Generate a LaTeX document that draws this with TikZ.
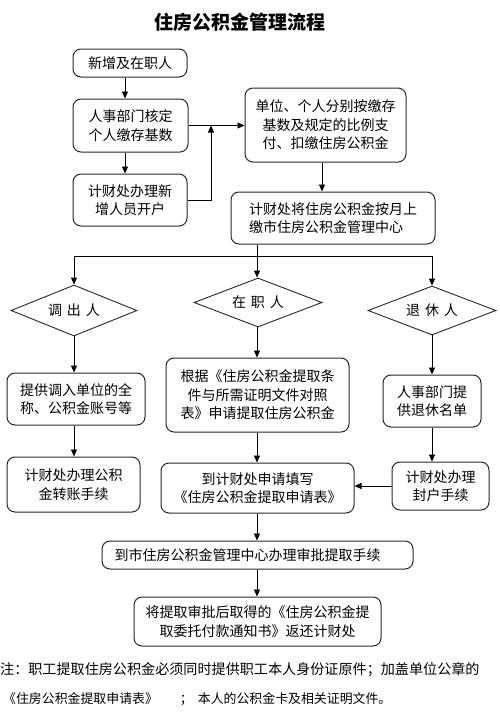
\documentclass[tikz,border=0pt]{standalone}
\usepackage{fontspec}
\setmainfont{Noto Sans CJK SC}
\newfontfamily\cjk{Noto Sans CJK SC}
\usetikzlibrary{shapes.geometric,arrows.meta}
\begin{document}
\begin{tikzpicture}[x=1pt,y=-1pt,
  box/.style={draw=black!85, line width=1pt, rounded corners=8pt, inner sep=0pt,
    align=center, font=\cjk\fontsize{14}{18.5}\selectfont},
  dia/.style={draw=black!85, line width=0.9pt, diamond, aspect=2.5, inner sep=0pt,
    font=\cjk\fontsize{14}{18}\selectfont},
  arr/.style={line width=0.9pt, -{Triangle[length=7pt,width=6pt]}},
  ln/.style={line width=0.9pt}]
\useasboundingbox (0,0) rectangle (500,718);
\node[font=\cjk\bfseries\fontsize{19}{22}\selectfont] (title) at (240,22) {住房公积金管理流程};

\node[box, minimum width=114pt, minimum height=28pt] (b1) at (130,63) {新增及在职人};
\node[box, minimum width=115pt, minimum height=53pt] (b2) at (130.5,125.5) {人事部门核定\\个人缴存基数};
\node[box, minimum width=114pt, minimum height=52pt] (b3) at (130,200) {计财处办理新\\增人员开户};
\node[box, minimum width=161pt, minimum height=74pt] (r1) at (325.5,125) {单位、个人分别按缴存\\基数及规定的比例支\\付、扣缴住房公积金};
\node[box, minimum width=204pt, minimum height=52pt, align=left] (r2) at (333,218) {计财处将住房公积金按月上\\缴市住房公积金管理中心};

\node[dia, minimum width=126pt, minimum height=51pt] (dL) at (74,310.5) {调\hspace{5pt}出\hspace{5pt}人};
\node[dia, minimum width=128pt, minimum height=49pt] (dM) at (258,302.5) {在\hspace{5pt}职\hspace{5pt}人};
\node[dia, minimum width=128pt, minimum height=49pt] (dR) at (432,310.5) {退\hspace{5pt}休\hspace{5pt}人};

\node[box, minimum width=138pt, minimum height=52pt] (L1) at (76,399) {提供调入单位的全\\称、公积金账号等};
\node[box, minimum width=183pt, minimum height=74pt] (M1) at (257.5,395) {根据《住房公积金提取条\\件与所需证明文件对照\\表》申请提取住房公积金};
\node[box, minimum width=98pt, minimum height=52pt] (R1) at (432,401) {人事部门提\\供退休名单};

\node[box, minimum width=133pt, minimum height=55pt] (L2) at (73.5,484.5) {计财处办理公积\\金转账手续};
\node[box, minimum width=193pt, minimum height=50pt] (M2) at (257.5,488) {到计财处申请填写\\《住房公积金提取申请表》};
\node[box, minimum width=97pt, minimum height=48pt] (R2) at (440.5,486) {计财处办理\\封户手续};

\node[box, minimum width=311pt, minimum height=28pt] (B1) at (257.5,555) {到市住房公积金管理中心办理审批提取手续\hspace{20pt}};
\node[box, minimum width=247pt, minimum height=49pt] (B2) at (257.5,621.5) {将提取审批后取得的《住房公积金提\\取委托付款通知书》返还计财处};

\node[anchor=west, inner sep=0pt, font=\cjk\fontsize{14.1}{18}\selectfont] (n1) at (0,670) {注：职工提取住房公积金必须同时提供职工本人身份证原件；加盖单位公章的};
\node[anchor=west, inner sep=0pt, font=\cjk\fontsize{12.9}{18}\selectfont] (n2) at (3,699) {《住房公积金提取申请表》\hspace{22pt}；\hspace{5pt}本人的公积金卡及相关证明文件。};

\coordinate (cL) at (125,0);
\coordinate (cJ) at (211,0);
\coordinate (cR) at (322,0);
\coordinate (cM) at (257,0);
\coordinate (split) at (257,256);

\draw[arr] (b1.south -| cL) -- (b2.north -| cL);
\draw[arr] (b2.south -| cL) -- (b3.north -| cL);
\draw[arr] (b2.east) -- (r1.west |- b2.east);
\draw[arr] (b3.east) -| (cJ |- b2.east);
\draw[arr] (r1.south -| cR) -- (r2.north -| cR);
\draw[ln] (r2.south -| cM) -- (split);
\draw[arr] (split) -| (dL.north);
\draw[arr] (split) -| (dR.north);
\draw[arr] (split) -- (dM.north -| split);
\draw[arr] (dL.south) -- (L1.north -| dL.south);
\draw[arr] (dM.south -| cM) -- (M1.north -| cM);
\draw[arr] (dR.south) -- (R1.north -| dR.south);
\draw[arr] (L1.south -| dL.south) -- (L2.north -| dL.south);
\draw[arr] (M1.south -| cM) -- (M2.north -| cM);
\draw[arr] (R1.south) -- (R2.north -| R1.south);
\draw[arr] (R2.west) -- (M2.east |- R2.west);
\draw[arr] (M2.south -| cM) -- (B1.north -| cM);
\draw[arr] (B1.south -| cM) -- (B2.north -| cM);
\end{tikzpicture}
\end{document}
